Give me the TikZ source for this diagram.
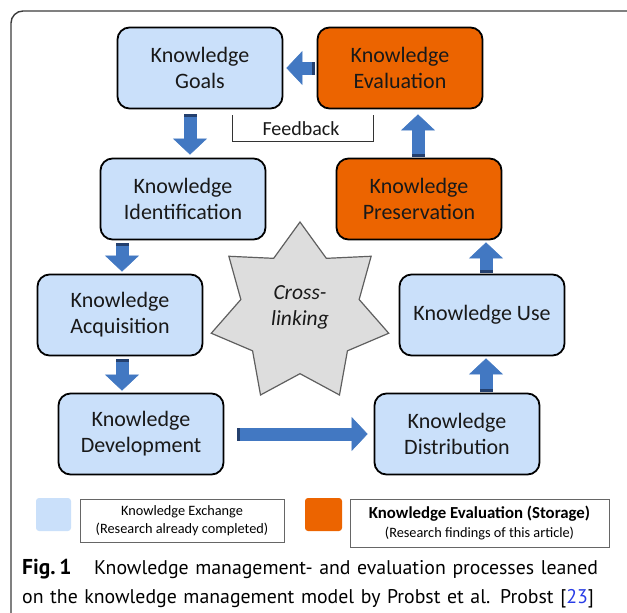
\documentclass[tikz,border=0pt]{standalone}
\usepackage{fontspec}
\setsansfont{Carlito}
\newfontfamily\capfont{PT Sans}
\usepackage{xcolor}
\usepackage{tikz}
\usetikzlibrary{arrows.meta,positioning,shapes.geometric,calc}
\definecolor{cExch}{RGB}{202,224,250}
\definecolor{cEval}{RGB}{236,100,0}
\definecolor{cArrow}{RGB}{66,120,194}
\definecolor{cArrowDk}{RGB}{36,64,110}
\definecolor{cStar}{RGB}{221,221,221}
\definecolor{cStarLine}{RGB}{95,95,95}
\definecolor{cFrame}{RGB}{60,60,60}
\definecolor{cRef}{RGB}{40,60,230}

\begin{document}
\begin{tikzpicture}[x=1pt,y=-1pt,font=\sffamily,
  box/.style={draw=black,rounded corners=12pt,line width=1.8pt,minimum width=165pt,minimum height=81pt,
    align=center,inner sep=0pt,font=\sffamily\fontsize{22}{26}\selectfont,text=black!90},
  exch/.style={box,fill=cExch},
  evalbox/.style={box,fill=cEval},
  flow/.style={line width=13pt,draw=cArrow,
    {Rectangle[length=3pt,width=13pt,color=cArrowDk]}-{Triangle[width=34pt,length=16pt,line width=0.5pt]}},
  legsq/.style={rounded corners=3pt,minimum height=33pt,inner sep=0pt},
  legbox/.style={draw=black!60,line width=0.8pt,align=center,inner sep=0pt,
    font=\sffamily\fontsize{14.3}{18.5}\selectfont}]
  \useasboundingbox (0,0) rectangle (627,613);
  % outer figure frame
  \draw[cFrame,line width=1.4pt,rounded corners=12pt] (11,613) -- (11,11) -- (627,11);
  % process boxes
  \node[exch] (goals) at (200,68) {Knowledge\\Goals};
  \node[evalbox] (evalu) at (400,68) {Knowledge\\Evaluation};
  \node[exch] (ident) at (183,199) {Knowledge\\Identification};
  \node[evalbox] (preserv) at (419,199) {Knowledge\\Preservation};
  \node[exch] (acquis) at (120,315) {Knowledge\\Acquisition};
  \node[exch] (use) at (482,315) {Knowledge Use};
  \node[exch] (develop) at (141,434) {Knowledge\\Development};
  \node[exch] (distrib) at (457,434) {Knowledge\\Distribution};
  % cross-linking star
  \node[star,star points=7,star point ratio=1.5,minimum size=182pt,inner sep=0pt,
    fill=cStar,draw=cStarLine,line width=1.2pt] (cross) at (300,313) {};
  \node[align=center,font=\sffamily\itshape\fontsize{21.5}{26}\selectfont,text=black!90] (crosstxt) at (300,307) {Cross-\\linking};
  % flow arrows
  \draw[flow] ([xshift=-2pt]evalu.west) -- ([xshift=3pt]goals.east);
  \draw[flow] ([xshift=-10pt,yshift=-5pt]goals.south) -- ([xshift=7pt,yshift=3pt]ident.north);
  \draw[flow] ([xshift=-61pt,yshift=-3pt]ident.south) -- ([xshift=2pt,yshift=2pt]acquis.north);
  \draw[flow] ([xshift=2pt,yshift=-3pt]acquis.south) -- ([xshift=-19pt,yshift=2pt]develop.north);
  \draw[flow] ([xshift=13pt]develop.east) -- ([xshift=-6pt]distrib.west);
  \draw[flow] ([xshift=29pt,yshift=1pt]distrib.north) -- ([xshift=4pt,yshift=-2pt]use.south);
  \draw[flow] ([xshift=4pt,yshift=1pt]use.north) -- ([xshift=67pt,yshift=-2pt]preserv.south);
  \draw[flow] ([xshift=-1pt,yshift=1pt]preserv.north) -- ([xshift=18pt,yshift=-5pt]evalu.south);
  % feedback bracket
  \coordinate (fbL) at ([xshift=32pt,yshift=-6pt]goals.south);
  \coordinate (fbR) at ([xshift=-27pt,yshift=-6pt]evalu.south);
  \draw[black!80,line width=1pt] (fbL) -- ++(0,26) -| (fbR);
  \node[font=\sffamily\fontsize{20}{22}\selectfont,text=black!90] (fb) at (301,129) {Feedback};
  % legend
  \node[legsq,fill=cExch,minimum width=35pt] (sqExch) at (53.5,514.5) {};
  \node[legbox,minimum width=204pt,minimum height=43pt] (boxExch) at (182,520.5)
    {Knowledge Exchange\\(Research already completed)};
  \node[legsq,fill=cEval,minimum width=37pt] (sqEval) at (323.5,514.5) {};
  \node[legbox,minimum width=259pt,minimum height=48pt] (boxEval) at (479.5,523)
    {{\bfseries\fontsize{16.8}{19}\selectfont Knowledge Evaluation (Storage)}\\(Research findings of this article)};
  % caption
  \node[anchor=north west,text width=610pt,align=left,inner sep=0pt,
    font=\capfont\fontsize{19.8}{28.5}\selectfont] (caption) at (22,559)
    {\makebox[72pt][l]{\fontsize{21.5}{28.5}\selectfont\textbf{Fig.\,1}}Knowledge management- and evaluation processes leaned\\
     on the knowledge management model by Probst et al. Probst [\textcolor{cRef}{23}]};
\end{tikzpicture}
\end{document}
